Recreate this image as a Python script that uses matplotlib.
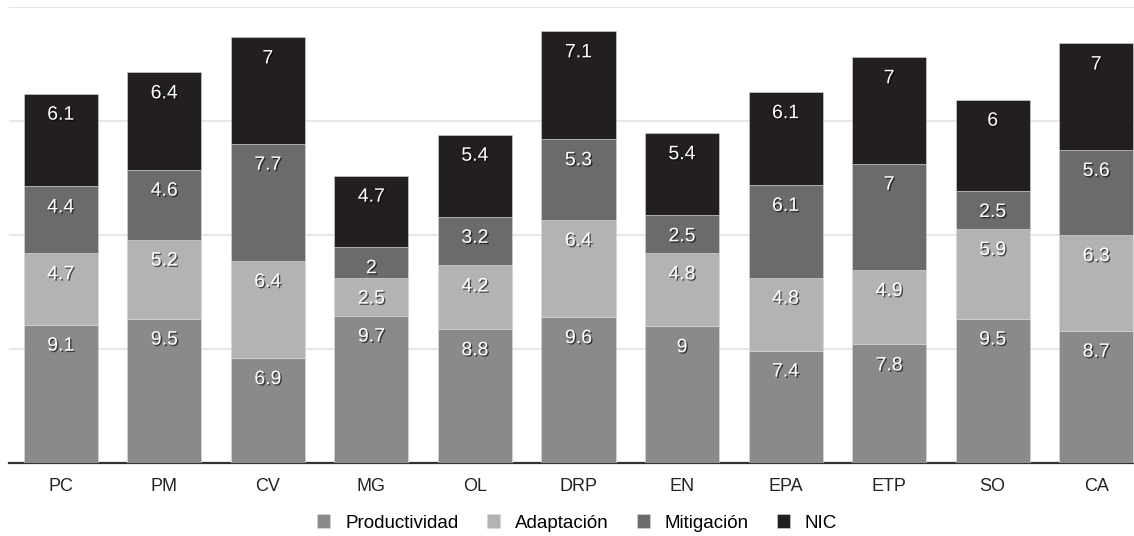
import numpy as np
import matplotlib
matplotlib.use("Agg")
import matplotlib.pyplot as plt
import matplotlib.patheffects as pe

plt.rcParams['font.family'] = ['Liberation Sans', 'DejaVu Sans']

# categories and stacked series (bottom to top)
categories = ["PC", "PM", "CV", "MG", "OL", "DRP", "EN", "EPA", "ETP", "SO", "CA"]
productividad = [9.1, 9.5, 6.9, 9.7, 8.8, 9.6, 9, 7.4, 7.8, 9.5, 8.7]
adaptacion = [4.7, 5.2, 6.4, 2.5, 4.2, 6.4, 4.8, 4.8, 4.9, 5.9, 6.3]
mitigacion = [4.4, 4.6, 7.7, 2, 3.2, 5.3, 2.5, 6.1, 7, 2.5, 5.6]
nic = [6.1, 6.4, 7, 4.7, 5.4, 7.1, 5.4, 6.1, 7, 6, 7]

series = [
    ("Productividad", productividad, "#898a8c"),
    ("Adaptación", adaptacion, "#b2b3b5"),
    ("Mitigación", mitigacion, "#6b6b6e"),
    ("NIC", nic, "#231f20"),
]

fig = plt.figure(figsize=(11.34, 5.36), dpi=100)
ax = fig.add_axes([9 / 1134, 1 - 463 / 536, 1 - 9 / 1134, (463 - 7) / 536])

x = np.arange(len(categories))
bottom = np.zeros(len(categories))
shadow = [pe.SimplePatchShadow(offset=(1, -1), shadow_rgbFace="black", alpha=0.6), pe.Normal()]

for name, vals, color in series:
    vals = np.array(vals, dtype=float)
    ax.bar(x, vals, width=0.715, bottom=bottom, color=color, label=name,
           edgecolor="#d8d8d8", linewidth=0.4, zorder=3)
    for xi, b, v in zip(x, bottom, vals):
        ax.annotate(f"{v:g}", (xi, b + v), xytext=(0, -15.5), textcoords="offset points",
                    ha="center", va="center", color="white", fontsize=14,
                    path_effects=shadow, zorder=4)
    bottom += vals

ax.set_ylim(0, 30)
ax.set_xlim(-0.5, 10.5 - 14 / 103.5)
ax.set_yticks([7.5, 15, 22.5, 30])
ax.yaxis.grid(True, color="#e3e3e3", linewidth=1.2, zorder=0)
ax.tick_params(axis="y", left=False, labelleft=False)
ax.set_xticks(x)
ax.set_xticklabels(categories, fontsize=13, color="#222222")
ax.tick_params(axis="x", length=0, pad=11)
for side in ["top", "right", "left"]:
    ax.spines[side].set_visible(False)
ax.spines["bottom"].set_color("#333333")
ax.spines["bottom"].set_linewidth(1.6)

ax.legend(loc="center", bbox_to_anchor=(0.505, -60 / 456), ncol=4, frameon=False,
          fontsize=13.5, handlelength=0.7, handleheight=0.7, handletextpad=0.8,
          columnspacing=1.5)

fig.savefig("out.png", dpi=100)
